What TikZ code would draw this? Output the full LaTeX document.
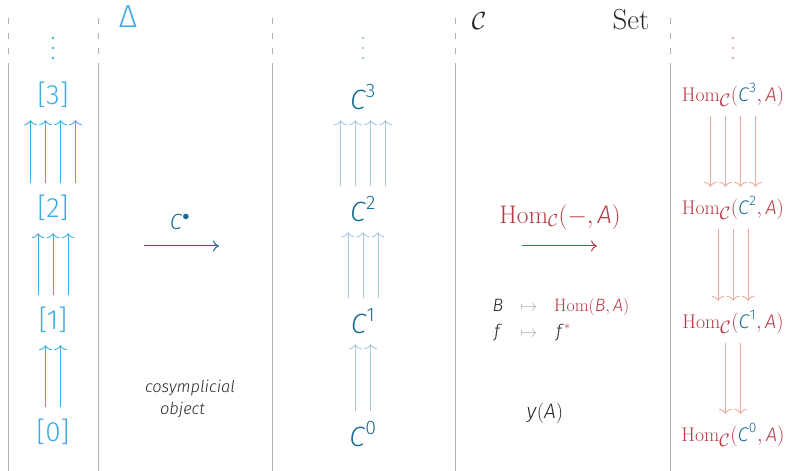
\documentclass[tikz,border=0pt]{standalone}
\usepackage{amsmath}
\usepackage{fontspec}
\setsansfont{Fira Sans}[UprightFont=* Light, ItalicFont=* Light Italic]
\usetikzlibrary{arrows.meta}
\definecolor{lblue}{RGB}{64,172,228}
\definecolor{dblue}{RGB}{24,108,152}
\definecolor{pblue}{RGB}{165,200,222}
\definecolor{hred}{RGB}{184,58,68}
\definecolor{pred}{RGB}{236,172,160}
\definecolor{vgrey}{RGB}{178,178,178}
\definecolor{txt}{RGB}{40,40,40}
\definecolor{mgrey}{RGB}{175,175,175}
\newcommand{\mi}[1]{\textsf{\textit{#1}}}
\newcommand{\sd}[1]{\textsf{#1}}
\newcommand{\homc}{\mathrm{Hom}_{\scalebox{1.25}{$\scriptstyle\mathcal{C}$}}}
\begin{document}
\begin{tikzpicture}[x=1bp,y=-1bp,
  vline/.style={draw=vgrey,line width=1bp},
  vdash/.style={vline,dash pattern=on 6bp off 9bp},
  lnode/.style={inner sep=0pt,minimum height=50bp,font=\fontsize{28}{32}\selectfont\sffamily,text=lblue},
  cnode/.style={inner sep=0pt,minimum height=46bp,font=\fontsize{28}{32}\selectfont,text=dblue},
  hnode/.style={inner sep=0pt,minimum height=42bp,font=\fontsize{19.8}{22}\selectfont,text=hred},
  larr/.style={draw=lblue,line width=0.9bp,-{To[length=5bp,width=13bp]}},
  carr/.style={draw=pblue,line width=0.9bp,-{To[length=5bp,width=13bp]}},
  rarr/.style={draw=pred,line width=0.9bp,-{To[length=5bp,width=13bp]}},
  harr/.style={line width=1bp,-{To[length=6bp,width=11bp]}},
  title/.style={anchor=base,inner sep=0pt,font=\fontsize{29}{32}\selectfont},
  small/.style={inner sep=0pt,text height=12bp,text depth=4bp,font=\fontsize{18}{20}\selectfont,text=txt},
]
\useasboundingbox (0,0) rectangle (796,471);
% column rules
\foreach \x in {8,98,272,455,670}{
  \draw[vdash] (\x,18) -- (\x,63);
  \draw[vline] (\x,63) -- (\x,471);
}
% titles
\node[title,text=lblue,font=\fontsize{32}{34}\selectfont\sffamily] (tD) at (128,28) {Δ};
\node[title,text=txt] (tC) at (479,30) {$\mathcal{C}$};
\node[title,text=txt] (tS) at (631,30) {$\mathrm{Set}$};
% dots
\foreach \y in {38,48,58}{
  \fill[lblue] (53,\y) circle (1.4bp);
  \fill[pblue] (363,\y) circle (1.4bp);
  \fill[pred] (733,\y) circle (1.4bp);
}
% left column
\node[lnode] (n3) at (53,95) {[3]};
\node[lnode] (n2) at (53,208) {[2]};
\node[lnode] (n1) at (53,320) {[1]};
\node[lnode] (n0) at (53,432) {[0]};
\foreach \dx in {-22.5,-7.5,7.5,22.5} \draw[larr] ([xshift=\dx bp]n2.north) -- ([xshift=\dx bp]n3.south);
\foreach \dx in {-15,0,15} \draw[larr] ([xshift=\dx bp]n1.north) -- ([xshift=\dx bp]n2.south);
\foreach \dx in {-7.5,7.5} \draw[larr] ([xshift=\dx bp]n0.north) -- ([xshift=\dx bp]n1.south);
% C^bullet
\node[inner sep=0pt,text=dblue,font=\fontsize{22}{26}\selectfont] (cb) at (180,222) {$\mi{C}^{\bullet}$};
\coordinate (cbs) at (144,246);
\coordinate (cbe) at (219,246);
\draw[harr,draw=dblue] (cbs) -- (cbe);
\node[inner sep=0pt,text=txt,font=\fontsize{16.5}{19}\selectfont\sffamily\itshape] (cos1) at (190,388) {cosymplicial};
\node[inner sep=0pt,text=txt,font=\fontsize{16.5}{19}\selectfont\sffamily\itshape] (cos2) at (182.5,410) {object};
% middle column
\node[cnode] (c3) at (363,97) {$\mi{C}^{\sd{3}}$};
\node[cnode] (c2) at (363,209) {$\mi{C}^{\sd{2}}$};
\node[cnode] (c1) at (363,321) {$\mi{C}^{\sd{1}}$};
\node[cnode] (c0) at (363,434) {$\mi{C}^{\sd{0}}$};
\foreach \dx in {-22.5,-7.5,7.5,22.5} \draw[carr] ([xshift=\dx bp]c2.north) -- ([xshift=\dx bp]c3.south);
\foreach \dx in {-15,0,15} \draw[carr] ([xshift=\dx bp]c1.north) -- ([xshift=\dx bp]c2.south);
\foreach \dx in {-7.5,7.5} \draw[carr] ([xshift=\dx bp]c0.north) -- ([xshift=\dx bp]c1.south);
% Hom functor
\node[inner sep=0pt,text=hred,font=\fontsize{25.5}{29}\selectfont] (hf) at (560,217) {$\mathrm{Hom}_{\mathcal{C}}(-,\mi{A})$};
\coordinate (hfs) at (522,246);
\coordinate (hfe) at (597,246);
\draw[harr,draw=hred] (hfs) -- (hfe);
\node[small,anchor=base] (rB) at (498,312) {$\mi{B}$};
\node[small,anchor=base,text=mgrey] (m1) at (529,312) {$\mapsto$};
\node[small,anchor=base west,text=hred] (rH) at (554,312) {$\mathrm{Hom}(\mi{B},\mi{A})$};
\node[small,anchor=base] (rf) at (498,338) {$\mi{f}$};
\node[small,anchor=base,text=mgrey] (m2) at (529,338) {$\mapsto$};
\node[small,anchor=base west] (rfs) at (556,338) {$\mi{f}^{\textcolor{hred}{*}}$};
\node[inner sep=0pt,text=txt,font=\fontsize{21}{24}\selectfont] (yA) at (545,413) {$\mi{y}(\mi{A})$};
% right column
\node[hnode] (h3) at (733,95) {$\homc(\textcolor{dblue}{\mi{C}^{\sd{3}}},\mi{A})$};
\node[hnode] (h2) at (733,208) {$\homc(\textcolor{dblue}{\mi{C}^{\sd{2}}},\mi{A})$};
\node[hnode] (h1) at (733,322) {$\homc(\textcolor{dblue}{\mi{C}^{\sd{1}}},\mi{A})$};
\node[hnode] (h0) at (733,435) {$\homc(\textcolor{dblue}{\mi{C}^{\sd{0}}},\mi{A})$};
\foreach \dx in {-22.5,-7.5,7.5,22.5} \draw[rarr] ([xshift=\dx bp]h3.south) -- ([xshift=\dx bp]h2.north);
\foreach \dx in {-15,0,15} \draw[rarr] ([xshift=\dx bp]h2.south) -- ([xshift=\dx bp]h1.north);
\foreach \dx in {-7.5,7.5} \draw[rarr] ([xshift=\dx bp]h1.south) -- ([xshift=\dx bp]h0.north);
\end{tikzpicture}
\end{document}
